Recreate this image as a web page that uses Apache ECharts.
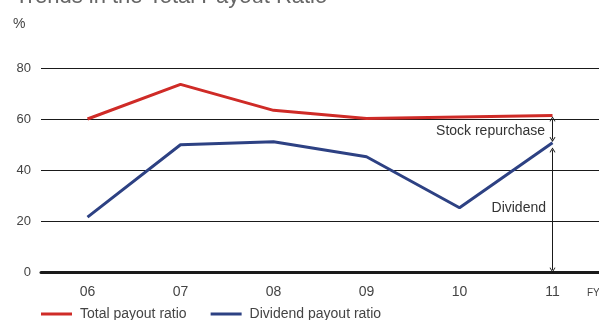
<!DOCTYPE html>
<html>
<head>
<meta charset="utf-8">
<script src="https://cdn.jsdelivr.net/npm/echarts@6/dist/echarts.min.js"></script>
<style>
  html, body { margin: 0; padding: 0; background: #fff; }
  #chart { width: 599px; height: 320px; }
</style>
</head>
<body>
<div id="chart"></div>
<script>
// Fiscal years shown on the category axis
const years = ['06', '07', '08', '09', '10', '11'];
// Total payout ratio (%) = dividend + stock repurchase
const totalPayout = [60.0, 73.6, 63.4, 60.2, 60.8, 61.4];
// Dividend payout ratio (%)
const dividendPayout = [21.5, 49.9, 51.1, 45.2, 25.2, 50.7];
// Y-axis ticks
const yTicks = [0, 20, 40, 60, 80];

const RED = '#cf2b27';
const BLUE = '#2d4183';
const TEXT = '#444';
const FONT = 'Liberation Sans, Arial, Helvetica, sans-serif';

// thin open chevron used as the arrow head of the bracket arrows
const chevron = 'path://M0,9 L5,0 L10,9 L8.6,9.6 L5,3 L1.4,9.6 Z';

const chart = echarts.init(document.getElementById('chart'), null, { renderer: 'canvas' });

chart.setOption({
  animation: false,
  textStyle: { fontFamily: FONT },
  title: {
    text: 'Trends in the Total Payout Ratio',
    left: 10,
    top: -19,
    textStyle: { fontSize: 22, fontWeight: 'normal', color: '#666', fontFamily: FONT }
  },
  grid: { left: 41, right: 0, top: 68, bottom: 48, containLabel: false, outerBoundsMode: 'none' },
  legend: {
    left: 41,
    top: 307,
    padding: 0,
    itemWidth: 31,
    itemHeight: 3,
    itemGap: 24,
    icon: 'rect',
    textStyle: { fontSize: 14, color: TEXT, fontFamily: FONT, padding: [0, 0, 0, 3] },
    data: ['Total payout ratio', 'Dividend payout ratio']
  },
  xAxis: {
    type: 'category',
    data: years,
    boundaryGap: true,
    name: 'FY',
    nameLocation: 'end',
    nameGap: -12,
    nameTextStyle: { fontSize: 10, color: TEXT, verticalAlign: 'top', padding: [16, 0, 0, 0] },
    axisLine: { show: true, lineStyle: { color: '#1a1a1a', width: 3 } },
    axisTick: { show: false },
    axisLabel: { fontSize: 14, color: TEXT, margin: 13 },
    splitLine: { show: false }
  },
  yAxis: {
    type: 'value',
    min: yTicks[0],
    max: yTicks[yTicks.length - 1],
    interval: 20,
    name: '%',
    nameLocation: 'end',
    nameGap: 37,
    nameTextStyle: { fontSize: 14, color: TEXT, align: 'left', padding: [0, 0, 0, -28] },
    axisLine: { show: false },
    axisTick: { show: false },
    axisLabel: { fontSize: 13, color: TEXT, margin: 10 },
    splitLine: { show: true, lineStyle: { color: '#1a1a1a', width: 1 } }
  },
  series: [
    {
      name: 'Total payout ratio',
      type: 'line',
      data: totalPayout,
      symbol: 'none',
      itemStyle: { color: RED },
      lineStyle: { color: RED, width: 3 },
      z: 3
    },
    {
      name: 'Dividend payout ratio',
      type: 'line',
      data: dividendPayout,
      symbol: 'none',
      itemStyle: { color: BLUE },
      lineStyle: { color: BLUE, width: 3 },
      z: 3,
      markLine: {
        silent: true,
        symbol: [chevron, chevron],
        symbolSize: [6, 5],
        lineStyle: { color: '#1a1a1a', width: 1, type: 'solid' },
        label: { show: false },
        data: [
          [{ coord: ['11', 60] }, { coord: ['11', 52] }],
          [{ coord: ['11', 47.8] }, { coord: ['11', 0.8] }]
        ]
      }
    }
  ],
  graphic: [
    {
      type: 'text',
      right: 54,
      top: 124,
      style: { text: 'Stock repurchase', fontSize: 14, fill: '#333', fontFamily: FONT }
    },
    {
      type: 'text',
      right: 53,
      top: 201,
      style: { text: 'Dividend', fontSize: 14, fill: '#333', fontFamily: FONT }
    }
  ]
});
</script>
</body>
</html>
